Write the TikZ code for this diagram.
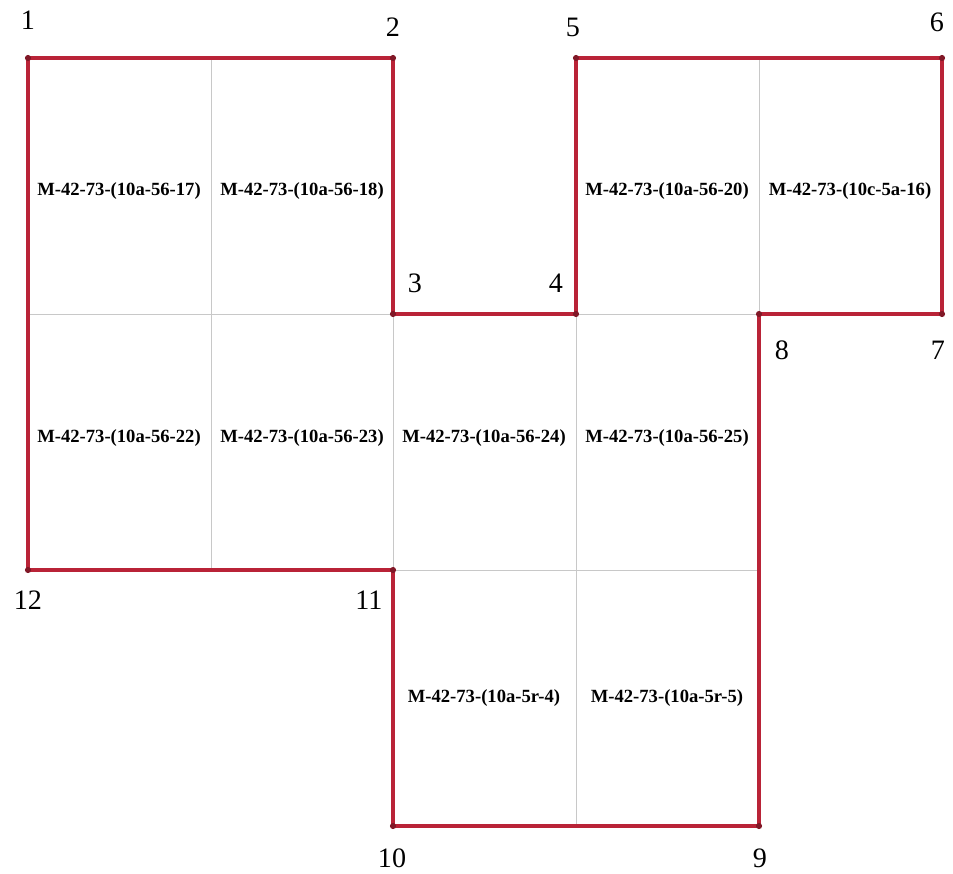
\documentclass[tikz,border=0pt]{standalone}
\usepackage{fontspec}
\setmainfont{Liberation Serif}
\usetikzlibrary{positioning,calc}
\definecolor{outline}{RGB}{185,35,55}
\definecolor{gridgray}{RGB}{200,200,200}

\begin{document}
\begin{tikzpicture}[x=0.02cm,y=-0.02cm,
  grid/.style={draw=gridgray,line width=0.5pt},
  border/.style={draw=outline,line width=2pt,line join=miter},
  sheet/.style={font=\bfseries\fontsize{10.6}{12}\selectfont,inner sep=0pt},
  corner/.style={font=\fontsize{16}{18}\selectfont,inner sep=1pt},
  dot/.style={fill=outline!70!black,circle,inner sep=0pt,minimum size=3.5pt}]
\useasboundingbox[fill=white] (0,0) rectangle (953,873);
% corners of the outline
\coordinate (p1) at (28,58);
\coordinate (p2) at (393,58);
\coordinate (p3) at (393,314);
\coordinate (p4) at (576,314);
\coordinate (p5) at (576,58);
\coordinate (p6) at (942,58);
\coordinate (p7) at (942,314);
\coordinate (p8) at (759,314);
\coordinate (p9) at (759,826);
\coordinate (p10) at (393,826);
\coordinate (p11) at (393,570);
\coordinate (p12) at (28,570);
% inner sheet lines
\draw[grid] (211,58) -- (211,570);
\draw[grid] (759,58) -- (759,314);
\draw[grid] (576,314) -- (576,826);
\draw[grid] (p3) -- (p11);
\draw[grid] (28,314) -- (p3);
\draw[grid] (p4) -- (p8);
\draw[grid] (p11) -- (759,570);
% outline
\draw[border] (p1) -- (p2) -- (p3) -- (p4) -- (p5) -- (p6) -- (p7) -- (p8)
  -- (p9) -- (p10) -- (p11) -- (p12) -- cycle;
\foreach \i in {1,...,12} \node[dot] at (p\i) {};
% sheet names
\node[sheet] (s17) at (119,191) {M-42-73-(10a-56-17)};
\node[sheet] (s18) at (302,191) {M-42-73-(10a-56-18)};
\node[sheet] (s20) at (667,191) {M-42-73-(10a-56-20)};
\node[sheet] (s16) at (850,191) {M-42-73-(10c-5a-16)};
\node[sheet] (s22) at (119,438) {M-42-73-(10a-56-22)};
\node[sheet] (s23) at (302,438) {M-42-73-(10a-56-23)};
\node[sheet] (s24) at (484,438) {M-42-73-(10a-56-24)};
\node[sheet] (s25) at (667,438) {M-42-73-(10a-56-25)};
\node[sheet] (s4) at (484,698) {M-42-73-(10a-5r-4)};
\node[sheet] (s5) at (667,698) {M-42-73-(10a-5r-5)};
% corner numbers
\node[corner] (n1) at ($(p1)+(0,-38)$) {1};
\node[corner] (n2) at ($(p2)+(0,-31)$) {2};
\node[corner] (n3) at ($(p3)+(22,-31)$) {3};
\node[corner] (n4) at ($(p4)+(-20,-31)$) {4};
\node[corner] (n5) at ($(p5)+(-3,-31)$) {5};
\node[corner] (n6) at ($(p6)+(-5,-36)$) {6};
\node[corner] (n7) at ($(p7)+(-4,36)$) {7};
\node[corner] (n8) at ($(p8)+(23,36)$) {8};
\node[corner] (n9) at ($(p9)+(1,32)$) {9};
\node[corner] (n10) at ($(p10)+(-1,32)$) {10};
\node[corner] (n11) at ($(p11)+(-24,30)$) {11};
\node[corner] (n12) at ($(p12)+(0,30)$) {12};
\end{tikzpicture}
\end{document}
